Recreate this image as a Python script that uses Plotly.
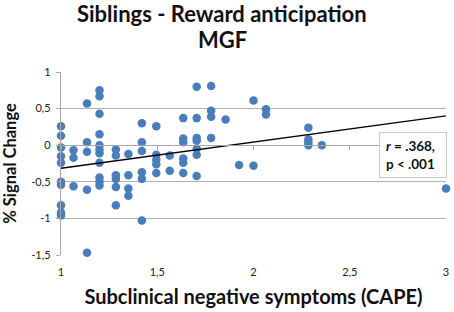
import plotly.graph_objects as go

# CAPE negative symptom scores (x) and % signal change (y)
cape = [1.0]*10 + [1.065]*3 + [1.135]*5 + [1.2]*11 + [1.285]*6 + [1.35]*4 + [1.42]*6 + \
       [1.495]*5 + [1.565]*2 + [1.635]*6 + [1.705]*7 + [1.78]*4 + [1.855] + [1.925] + \
       [2.0]*2 + [2.065]*2 + [2.285]*4 + [2.355] + [3.0]
signal = [0.26, 0.13, -0.03, -0.15, -0.24, -0.50, -0.54, -0.82, -0.92, -0.96,
          -0.07, -0.17, -0.56,
          0.57, 0.04, -0.09, -0.61, -1.47,
          0.75, 0.67, 0.43, 0.15, 0.0, -0.06, -0.11, -0.24, -0.44, -0.50, -0.55,
          -0.06, -0.14, -0.41, -0.46, -0.57, -0.82,
          -0.12, -0.41, -0.59, -0.69,
          0.30, 0.04, -0.08, -0.37, -0.46, -1.03,
          0.26, -0.13, -0.20, -0.26, -0.38,
          -0.14, -0.35,
          0.37, 0.09, 0.04, -0.18, -0.24, -0.38,
          0.80, 0.37, 0.10, 0.06, -0.05, -0.13, -0.42,
          0.81, 0.47, 0.39, 0.10,
          0.35,
          -0.27,
          0.61, -0.28,
          0.49, 0.42,
          0.24, 0.08, 0.04, 0.0,
          0.0,
          -0.59]

# linear trend line (value at x = 1 and x = 3)
trend_x = [1, 3]
trend_y = [-0.315, 0.40]

x_ticks = [1, 1.5, 2, 2.5, 3]
x_tick_text = ["1", "1,5", "2", "2,5", "3"]
y_ticks = [1, 0.5, 0, -0.5, -1, -1.5]
y_tick_text = ["1", "0,5", "0", "-0,5", "-1", "-1,5"]

x_range = [1, 3]
y_range = [-1.5, 1]

FONT = "Lato"
fig = go.Figure()
fig.add_trace(go.Scatter(x=cape, y=signal, mode="markers",
                         marker=dict(color="#4a7ebb", size=8.5, line=dict(width=0)),
                         showlegend=False, cliponaxis=False))
fig.add_trace(go.Scatter(x=trend_x, y=trend_y, mode="lines",
                         line=dict(color="#000000", width=1.3), showlegend=False))
# secondary x axis at y=0 carrying the tick marks
fig.add_trace(go.Scatter(x=[], y=[], xaxis="x2", showlegend=False))

title_font = dict(family=FONT, size=22, color="#111111", weight="bold")
fig.update_layout(
    width=454, height=312,
    margin=dict(l=61, r=8, t=72, b=57, autoexpand=False),
    paper_bgcolor="white", plot_bgcolor="white",
    xaxis=dict(range=x_range, tickvals=x_ticks, ticktext=x_tick_text, automargin=False,
               showgrid=False, zeroline=False, showline=False, ticks="",
               ticklabelstandoff=9,
               tickfont=dict(family=FONT, size=11, color="#222222"),
               title=dict(text="<b>Subclinical negative symptoms (CAPE)</b>",
                          font=dict(family=FONT, size=20, color="#111111"), standoff=12)),
    xaxis2=dict(range=x_range, tickvals=x_ticks, overlaying="x", anchor="free",
                position=0.6, showticklabels=False, showgrid=False, zeroline=False,
                automargin=False,
                showline=True, linecolor="#a8a8a8", linewidth=1.3,
                ticks="outside", ticklen=4, tickcolor="#a8a8a8", tickwidth=1.3),
    yaxis=dict(range=y_range, tickvals=y_ticks, ticktext=y_tick_text, automargin=False,
               showgrid=True, gridcolor="#b0b0b0", gridwidth=1.3, zeroline=False,
               showline=True, linecolor="#a8a8a8", linewidth=1.3,
               ticks="outside", ticklen=4, tickcolor="#a8a8a8", tickwidth=1.3,
               ticklabelstandoff=3,
               tickfont=dict(family=FONT, size=11, color="#222222"),
               title=dict(text="<b>% Signal Change</b>",
                          font=dict(family=FONT, size=16.5, color="#111111"), standoff=10)),
    annotations=[
        dict(text="Siblings - Reward anticipation", xref="paper", yref="paper",
             x=(222 - 61) / 385, y=(255 - 13) / 183, xanchor="center", yanchor="middle",
             showarrow=False, font=title_font),
        dict(text="MGF", xref="paper", yref="paper",
             x=(222 - 61) / 385, y=(255 - 39) / 183, xanchor="center", yanchor="middle",
             showarrow=False, font=title_font),
        dict(text="<i>r</i> = .368,<br>p &lt; .001", xref="paper", yref="paper",
             x=1.003, y=0.545, xanchor="right", yanchor="middle",
             showarrow=False, align="left", width=54, height=32,
             font=dict(family=FONT, size=13.5, color="#111111", weight="bold"),
             bgcolor="white", bordercolor="#c8c8c8", borderwidth=1, borderpad=6)],
)

fig.write_html("out.html", config={"displayModeBar": False},
               post_script="document.body.style.margin='0';document.body.style.padding='0';")
